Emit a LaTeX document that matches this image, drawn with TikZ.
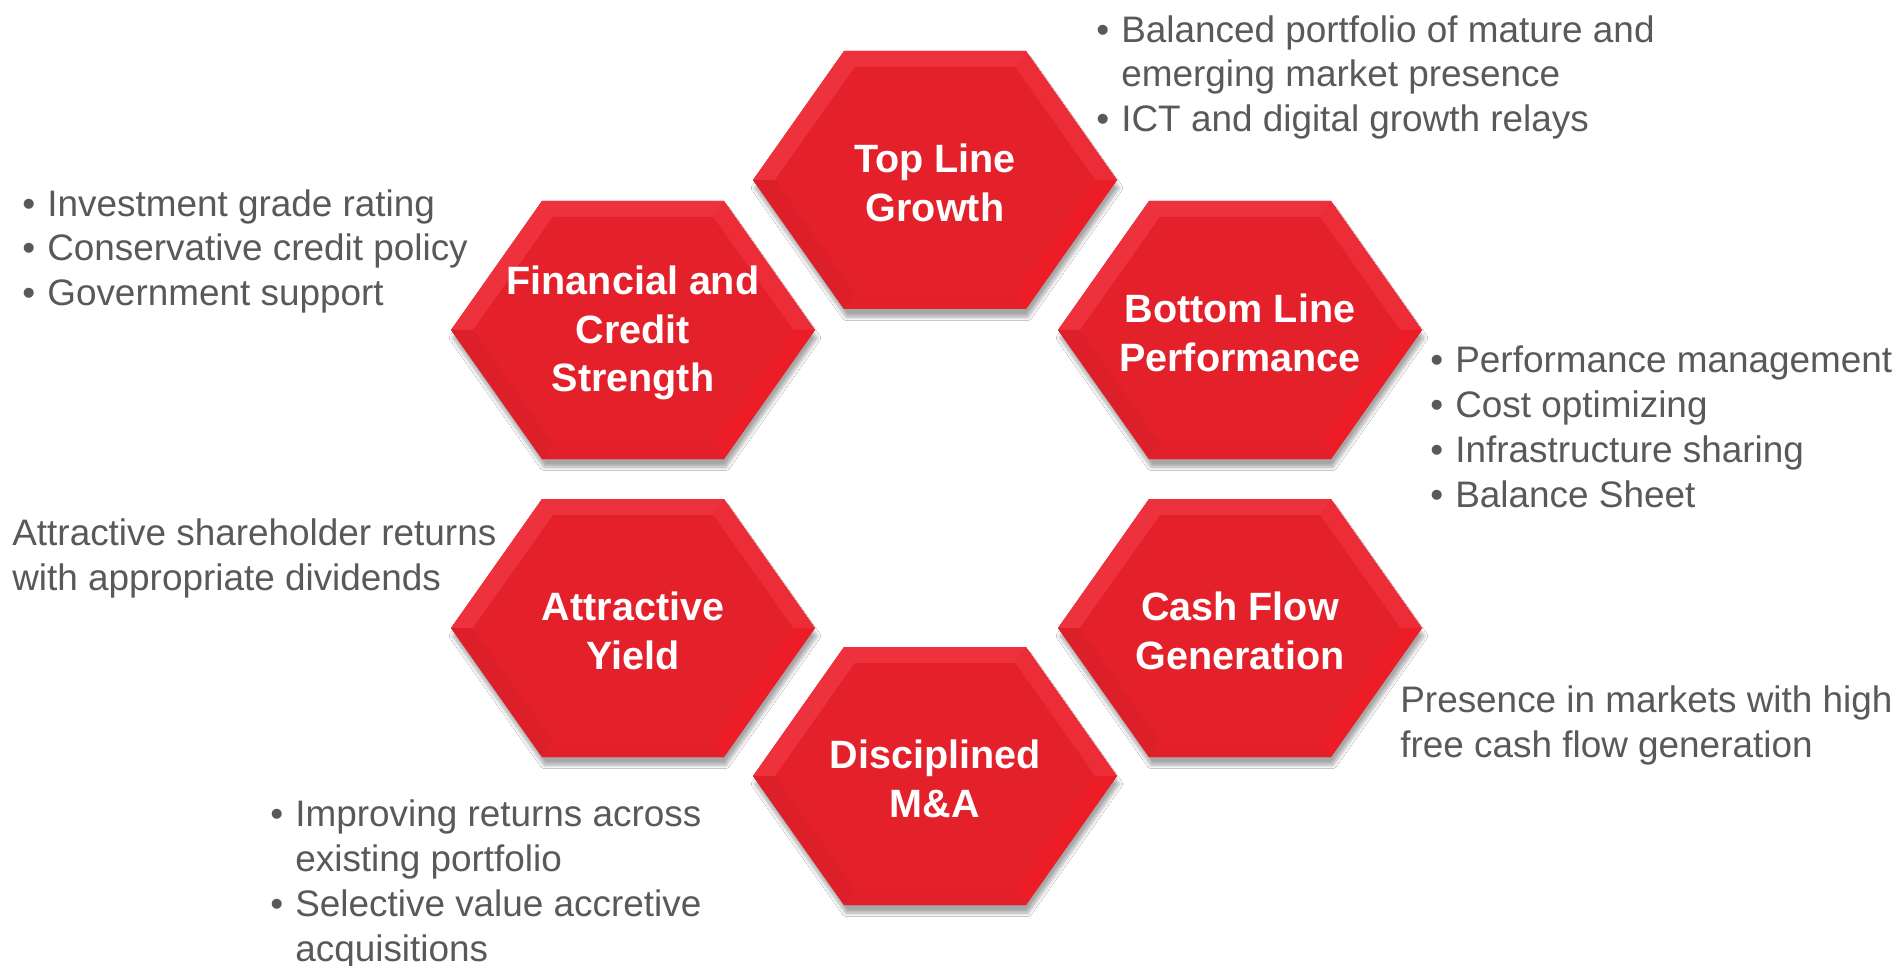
\documentclass[tikz,border=0pt]{standalone}
\usepackage{fontspec}
\setmainfont{Liberation Sans}
\usetikzlibrary{shadows.blur}

\definecolor{hexred}{HTML}{E4202A}
\definecolor{hexlight}{HTML}{EE323D}
\definecolor{hexmid}{HTML}{EC2C37}
\definecolor{hexdark}{HTML}{DC1F29}
\definecolor{hexbright}{HTML}{EC1D27}
\definecolor{txtgray}{HTML}{595959}

\tikzset{
  hextext/.style={text=white, font=\fontsize{22.5}{27.5}\selectfont\bfseries, align=center, inner sep=0pt},
  bultext/.style={text=txtgray, font=\fontsize{21}{25.5}\selectfont, align=left, inner sep=0pt, anchor=west},
}
\newcommand{\bul}{\strut\makebox[0.5cm][l]{\textbullet}}
\newcommand{\cont}{\strut\hspace*{0.5cm}}

\begin{document}
\begin{tikzpicture}[x=0.02cm,y=-0.02cm]

\useasboundingbox (0,0) rectangle (1904,966);
\fill[white] (0,0) rectangle (1904,966);

    \foreach \n/\x/\y/\t in {
        top/935/180/{Top Line\\Growth},
        fin/633/330/{Financial and\\Credit\\Strength},
        bot/1240/330/{Bottom Line\\Performance},
        yld/633/628/{Attractive\\Yield},
        cash/1240/628/{Cash Flow\\Generation},
        ma/935/776/{Disciplined\\M\&A}} {
        \begin{scope}[shift={(\x,\y)}]
            % outer body with shadow
            \fill[hexred, blur shadow={shadow xshift=0.4mm, shadow yshift=-1.6mm, shadow blur steps=8, shadow opacity=35}]
                (182,0) -- (91,129) -- (-91,129) -- (-182,0) -- (-91,-129) -- (91,-129) -- cycle;
            % bevel facets
            \fill[hexlight] (-91,-129) -- (91,-129) -- (80,-113) -- (-80,-113) -- cycle;
            \fill[hexmid] (91,-129) -- (182,0) -- (160,0) -- (80,-113) -- cycle;
            \fill[hexlight] (-182,0) -- (-91,-129) -- (-80,-113) -- (-160,0) -- cycle;
            \fill[hexdark] (-91,129) -- (-182,0) -- (-160,0) -- (-80,113) -- cycle;
            \fill[hexred!85!hexdark] (91,129) -- (-91,129) -- (-80,113) -- (80,113) -- cycle;
            \fill[hexbright] (182,0) -- (91,129) -- (80,113) -- (160,0) -- cycle;
            \fill[hexred] (160,0) -- (80,113) -- (-80,113) -- (-160,0) -- (-80,-113) -- (80,-113) -- cycle;
        \end{scope}
        \node[hextext] (\n) at (\x,\y+3) {\t};
    }

    % notes round the hexagons
    \node[bultext] (topnote) at (1096,78) {\bul Balanced portfolio of mature and\\\cont emerging market presence\\\bul ICT and digital growth relays};
    \node[bultext] (finnote) at (22,252) {\bul Investment grade rating\\\bul Conservative credit policy\\\bul Government support};
    \node[bultext] (botnote) at (1430,431) {\bul Performance management\\\bul Cost optimizing\\\bul Infrastructure sharing\\\bul Balance Sheet};
    \node[bultext] (yldnote) at (12,559) {\strut Attractive shareholder returns\\\strut with appropriate dividends};
    \node[bultext] (cashnote) at (1400,726) {\strut Presence in markets with high\\\strut free cash flow generation};
    \node[bultext] (manote) at (270,885) {\bul Improving returns across\\\cont existing portfolio\\\bul Selective value accretive\\\cont acquisitions};

\end{tikzpicture}
\end{document}
